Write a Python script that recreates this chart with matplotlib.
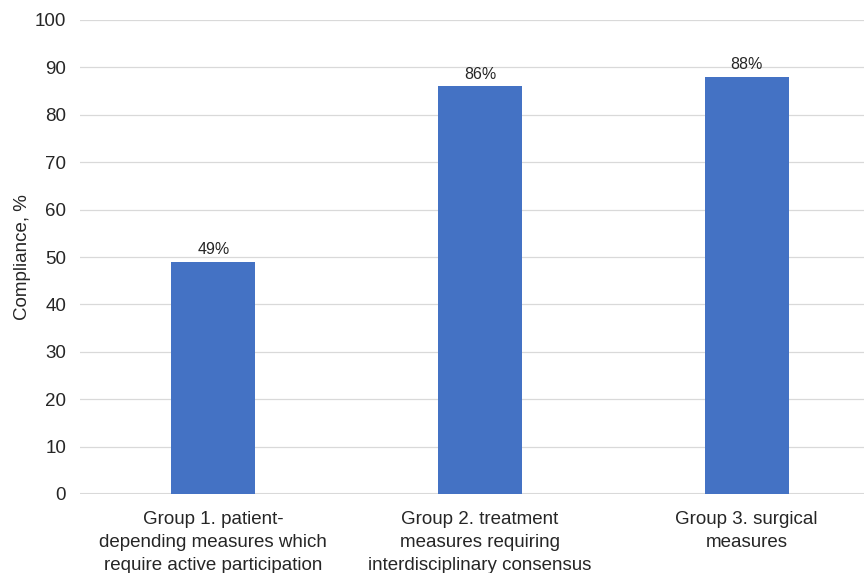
import numpy as np
import matplotlib.pyplot as plt

plt.rcParams['font.family'] = ['Liberation Sans', 'DejaVu Sans']

# dati
categorie = ['Group 1. patient-\ndepending measures which\nrequire active participation',
             'Group 2. treatment\nmeasures requiring\ninterdisciplinary consensus',
             'Group 3. surgical\nmeasures']
compliance = [49, 86, 88]
etichette = ['49%', '86%', '88%']
y_ticks = [0, 10, 20, 30, 40, 50, 60, 70, 80, 90, 100]

fig = plt.figure(figsize=(8.64, 5.73), dpi=100)
ax = fig.add_axes([80 / 864, 79 / 573, 800 / 864, 474 / 573])

x = np.arange(len(categorie))
bars = ax.bar(x, compliance, width=0.315, color='#4472C4', zorder=3)

for b, lab in zip(bars, etichette):
    ax.text(b.get_x() + b.get_width() / 2, b.get_height() + 1.0, lab,
            ha='center', va='bottom', fontsize=11.5, color='#262626')

ax.set_xlim(-0.5, 2.5)
ax.set_ylim(0, 100)
ax.set_yticks(y_ticks)
ax.set_xticks(x)
ax.set_xticklabels(categorie, fontsize=13.5, color='#262626', linespacing=1.44)
ax.tick_params(axis='y', labelsize=13.5, labelcolor='#262626', length=0, pad=10)
ax.tick_params(axis='x', length=0, pad=12.5)

ax.grid(axis='y', color='#d9d9d9', lw=0.9, zorder=0)
for s in ax.spines.values():
    s.set_visible(False)
ax.axhline(0, color='#d9d9d9', lw=1.5, zorder=2)

ax.set_ylabel('Compliance, %', fontsize=13.5, color='#262626', labelpad=3)

fig.savefig('out.png', dpi=100)
